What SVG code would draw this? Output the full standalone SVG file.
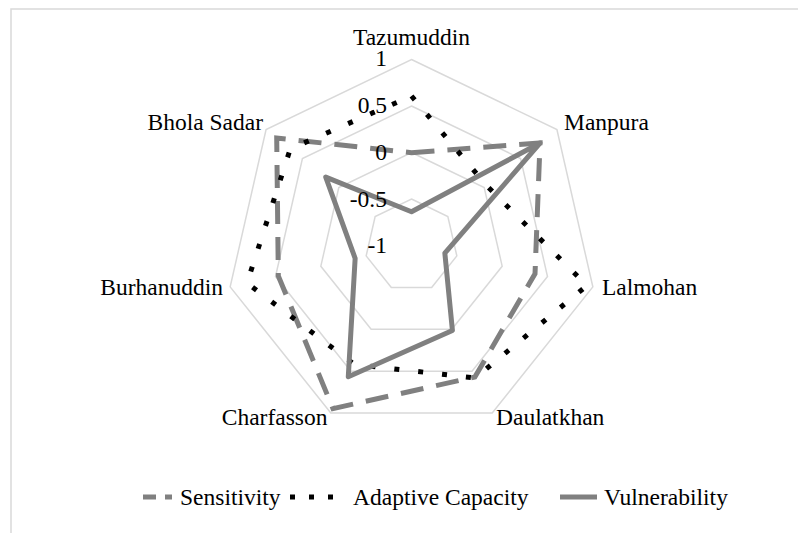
<svg xmlns="http://www.w3.org/2000/svg" width="798" height="533" viewBox="0 0 798 533" font-family="'Liberation Serif', 'DejaVu Serif', serif">
<style>
text{font-family:'Liberation Serif','DejaVu Serif',serif;font-size:23.5px;fill:#000}
.grid{fill:none;stroke:#d9d9d9;stroke-width:1.5}
.sens{fill:none;stroke:#808080;stroke-width:5;stroke-dasharray:23 13}
.adap{fill:none;stroke:#000;stroke-width:5;stroke-dasharray:5 19}
.vuln{fill:none;stroke:#808080;stroke-width:5;stroke-linejoin:round}
.num{text-anchor:end}
</style>
<rect x="0" y="0" width="798" height="533" fill="#fff"/>
<rect x="11" y="9" width="800" height="540" fill="#fff" stroke="#d9d9d9" stroke-width="1.5"/>
<g id="grid">
<polygon class="grid" points="411.5,59.5 556.92,129.53 592.84,286.89 492.2,413.08 330.8,413.08 230.16,286.89 266.08,129.53"/>
<polygon class="grid" points="411.5,106 520.57,158.52 547.5,276.54 472.03,371.19 350.97,371.19 275.5,276.54 302.43,158.52"/>
<polygon class="grid" points="411.5,152.5 484.21,187.52 502.17,266.19 451.85,329.29 371.15,329.29 320.83,266.19 338.79,187.52"/>
<polygon class="grid" points="411.5,199 447.85,216.51 456.83,255.85 431.68,287.4 391.32,287.4 366.17,255.85 375.15,216.51"/>
</g>
<g id="series">
<polygon id="sensitivity" class="sens" points="411.5,152.7 540.03,143 535.02,273.69 474.85,377.04 332.97,408.58 278.32,275.9 276.71,138.01"/>
<polygon id="adaptive" class="adap" points="411.5,96 486.56,185.64 586.99,285.55 475.28,377.94 354.23,364.43 247.03,283.04 290.32,148.86"/>
<polygon id="vulnerability" class="vuln" points="411.5,211.7 540.03,143 444.84,253.11 452.42,330.46 348.28,376.77 355.15,258.36 325.73,177.1"/>
</g>
<g id="axis-values" font-family="'Liberation Serif', 'DejaVu Serif', serif">
<text class="num" x="387" y="66">1</text>
<text class="num" x="387" y="113">0.5</text>
<text class="num" x="387" y="160">0</text>
<text class="num" x="387" y="207">-0.5</text>
<text class="num" x="387" y="253">-1</text>
</g>
<g id="categories" font-family="'Liberation Serif', 'DejaVu Serif', serif">
<text x="411.5" y="45" text-anchor="middle">Tazumuddin</text>
<text x="564" y="130">Manpura</text>
<text x="602" y="294.5">Lalmohan</text>
<text x="496" y="425">Daulatkhan</text>
<text x="327.5" y="425" text-anchor="end">Charfasson</text>
<text x="223" y="294.5" text-anchor="end">Burhanuddin</text>
<text x="263" y="130" text-anchor="end">Bhola Sadar</text>
</g>
<g id="legend" font-family="'Liberation Serif', 'DejaVu Serif', serif">
<line class="sens" x1="143" y1="497" x2="172" y2="497" style="stroke-dasharray:13 9"/>
<text x="180" y="505">Sensitivity</text>
<line class="adap" x1="290" y1="497" x2="345" y2="497" style="stroke-dasharray:5 14"/>
<text x="353" y="505">Adaptive Capacity</text>
<line class="vuln" x1="560" y1="497" x2="597" y2="497"/>
<text x="604" y="505">Vulnerability</text>
</g>
</svg>
